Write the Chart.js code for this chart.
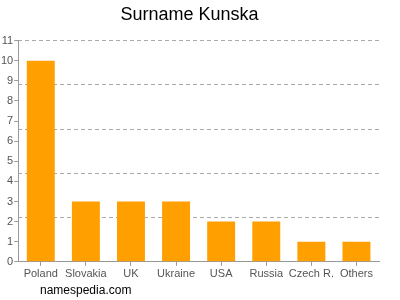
<!DOCTYPE html>
<html>
<head>
<meta charset="utf-8">
<script src="https://cdn.jsdelivr.net/npm/chart.js@4"></script>
<style>
  body { margin: 0; background: #fff; }
  .wrap { position: relative; width: 400px; height: 300px; }
  .footer { position: absolute; left: 40px; top: 283px; font: 12px "Liberation Sans", Arial, sans-serif; color: #000; }
</style>
</head>
<body>
<div class="wrap">
  <canvas id="myChart" width="400" height="300"></canvas>
  <div class="footer">namespedia.com</div>
</div>
<script>
const countries = ['Poland', 'Slovakia', 'UK', 'Ukraine', 'USA', 'Russia', 'Czech R.', 'Others'];
const counts = [10, 3, 3, 3, 2, 2, 1, 1];
const yTicks = [0, 1, 2, 3, 4, 5, 6, 7, 8, 9, 10, 11];

const ctx = document.querySelector('#myChart');

const myChart = new Chart(ctx, {
    type: 'bar',
    data: {
        labels: countries,
        datasets: [{
            data: counts,
            backgroundColor: '#ffa000',
            barPercentage: 0.62,
            categoryPercentage: 1
        }]
    },
    options: {
        responsive: false,
        animation: false,
        layout: { padding: { left: 0, right: 21, top: 0, bottom: 17 } },
        plugins: {
            legend: { display: false },
            tooltip: { enabled: false },
            title: {
                display: true,
                text: 'Surname Kunska',
                color: '#000',
                font: { family: 'Liberation Sans', size: 18, weight: 'normal' },
                padding: { top: 4, bottom: 15 }
            }
        },
        scales: {
            x: {
                grid: { color: 'transparent', tickColor: '#999', tickLength: 4, offset: false },
                border: { color: '#999' },
                ticks: { color: '#555', font: { family: 'Liberation Sans', size: 11 }, padding: 2, maxRotation: 0, autoSkip: false }
            },
            y: {
                min: 0,
                max: 11,
                afterBuildTicks: axis => { axis.ticks = yTicks.map(v => ({ value: v })); },
                grid: { color: 'transparent', tickColor: '#999', tickLength: 4 },
                border: { color: '#999' },
                ticks: { color: '#555', font: { family: 'Liberation Sans', size: 11 }, padding: 1 }
            },
            y2: {
                position: 'left',
                min: 0,
                max: 11,
                ticks: { display: false, stepSize: 2.2 },
                grid: { color: '#aaa', drawTicks: false },
                border: { display: false, dash: [4, 3] }
            }
        }
    }
});
</script>
</body>
</html>
